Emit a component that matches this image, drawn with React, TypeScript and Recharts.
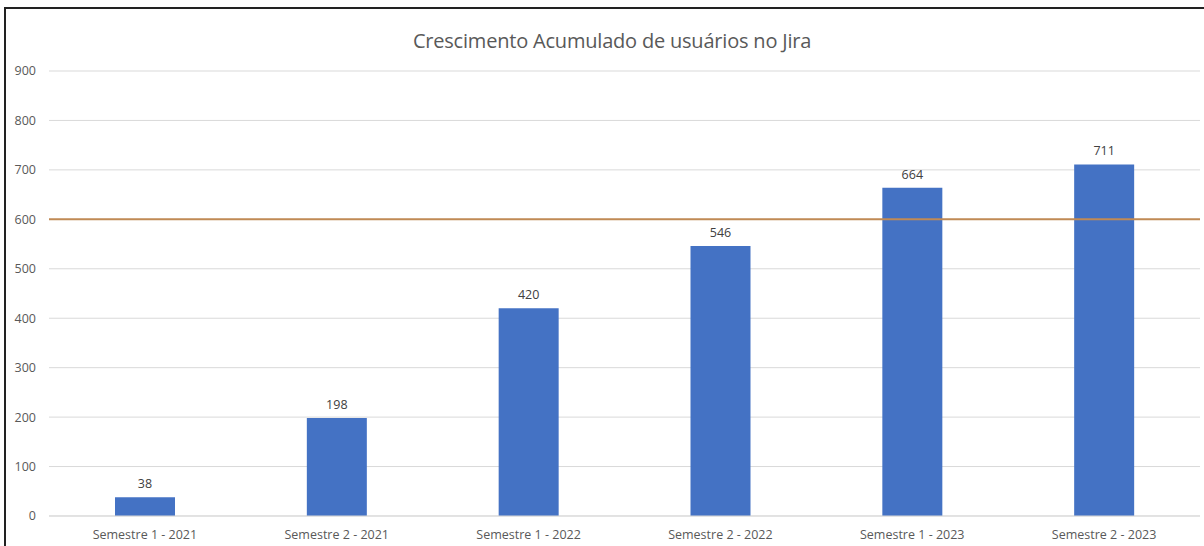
import React from "react";
import { BarChart, Bar, XAxis, YAxis, CartesianGrid, ReferenceLine, LabelList } from "recharts";

// Semestres e total acumulado de usuários
const SEMESTRES = [
  "Semestre 1 - 2021",
  "Semestre 2 - 2021",
  "Semestre 1 - 2022",
  "Semestre 2 - 2022",
  "Semestre 1 - 2023",
  "Semestre 2 - 2023",
];
const USUARIOS = [38, 198, 420, 546, 664, 711];
const Y_TICKS = [0, 100, 200, 300, 400, 500, 600, 700, 800, 900];
const META = 600;

const data = SEMESTRES.map((semestre, i) => ({ semestre, usuarios: USUARIOS[i] }));

const FONT = "'Open Sans', 'Liberation Sans', sans-serif";

export default function App() {
  return (
    <div
      style={{
        position: "absolute",
        top: 0,
        left: 0,
        width: 1204,
        height: 546,
        background: "#fff",
        fontFamily: FONT,
      }}
    >
      {/* moldura da planilha */}
      <div
        style={{
          position: "absolute",
          top: 7,
          left: 4,
          right: 0,
          bottom: 0,
          borderTop: "2px solid #222",
          borderLeft: "2px solid #222",
        }}
      />
      <div
        style={{
          position: "absolute",
          top: 27,
          left: 10,
          width: 1204,
          textAlign: "center",
          fontSize: 20,
          color: "#595959",
          letterSpacing: -0.2,
        }}
      >
        Crescimento Acumulado de usuários no Jira
      </div>
      <div style={{ position: "absolute", top: 0, left: 0 }}>
        <BarChart
          width={1204}
          height={546}
          data={data}
          margin={{ top: 71, right: 4, left: 0, bottom: 0 }}
          barSize={60}
        >
          <CartesianGrid vertical={false} stroke="#D9D9D9" />
          <XAxis
            dataKey="semestre"
            height={30}
            tickLine={false}
            axisLine={{ stroke: "#D9D9D9" }}
            tickMargin={8}
            tick={{ fill: "#595959", fontSize: 12.5, fontFamily: FONT }}
            interval={0}
          />
          <YAxis
            width={49}
            domain={[0, 900]}
            ticks={Y_TICKS}
            axisLine={false}
            tickLine={false}
            tickMargin={7}
            tick={{ fill: "#595959", fontSize: 12.5, fontFamily: FONT }}
          />
          <Bar dataKey="usuarios" fill="#4472C4" isAnimationActive={false}>
            <LabelList
              dataKey="usuarios"
              position="top"
              offset={9}
              style={{ fill: "#404040", fontSize: 12.5, fontFamily: FONT }}
            />
          </Bar>
          <ReferenceLine y={META} stroke="#C08A55" strokeWidth={2} />
        </BarChart>
      </div>
    </div>
  );
}
